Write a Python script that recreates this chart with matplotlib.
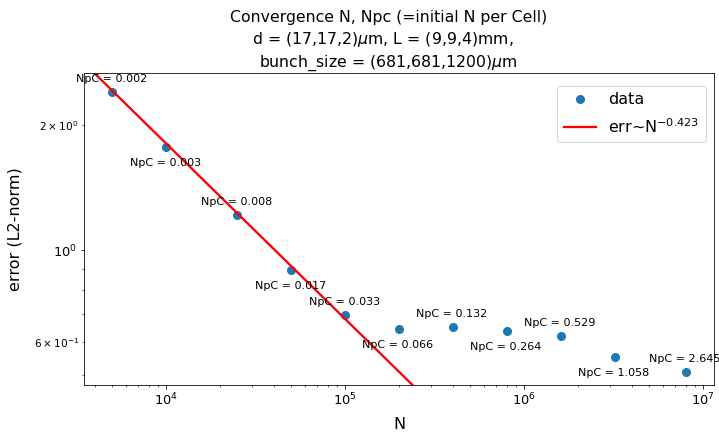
import numpy as np
import matplotlib.pyplot as plt

# particle numbers and measured L2 errors
N = [5e3, 1e4, 2.5e4, 5e4, 1e5, 2e5, 4e5, 8e5, 1.6e6, 3.2e6, 8e6]
err = [2.40, 1.77, 1.214, 0.895, 0.697, 0.645, 0.652, 0.638, 0.621, 0.552, 0.508]
npc = ["0.002", "0.003", "0.008", "0.017", "0.033", "0.066",
       "0.132", "0.264", "0.529", "1.058", "2.645"]

# fitted power law err ~ C * N^slope
slope = -0.423
C = 88.9

fig, ax = plt.subplots(figsize=(719 / 72, 433 / 72), dpi=72)
fig.subplots_adjust(left=0.117, right=0.993, top=0.831, bottom=0.111)

ax.loglog(N, err, 'o', color='tab:blue', markersize=8, label='data')
Nfit = np.array([N[0] / 2, N[-1] * 2])
ax.loglog(Nfit, C * Nfit ** slope, 'r-', lw=2.3,
          label=r'err~N$^{%.3f}$' % slope)

for i, (n, e, s) in enumerate(zip(N, err, npc)):
    dy = 10 if i % 2 == 0 else -19
    ax.annotate('NpC = ' + s, (n, e), xytext=(-1, dy), textcoords='offset points',
                ha='center', fontsize=11.1)

ax.set_xlim(3480, 1.15e7)
ax.set_ylim(0.473, 2.67)
ax.tick_params(axis='both', which='major', labelsize=13)
ax.tick_params(axis='y', which='minor', labelsize=10.5)
ax.set_xlabel('N', fontsize=16, labelpad=8)
ax.set_ylabel('error (L2-norm)', fontsize=16, labelpad=11)
ax.set_title('Convergence N, Npc (=initial N per Cell)\n'
             r'd = (17,17,2)$\mu$m, L = (9,9,4)mm,   ' '\n'
             r'bunch_size = (681,681,1200)$\mu$m', fontsize=15.8, x=0.483,
             linespacing=1.35, pad=4)
ax.legend(fontsize=16, loc='upper right', labelspacing=0.6,
          bbox_to_anchor=(1.0, 0.985))

plt.savefig('out.png', dpi=72)
